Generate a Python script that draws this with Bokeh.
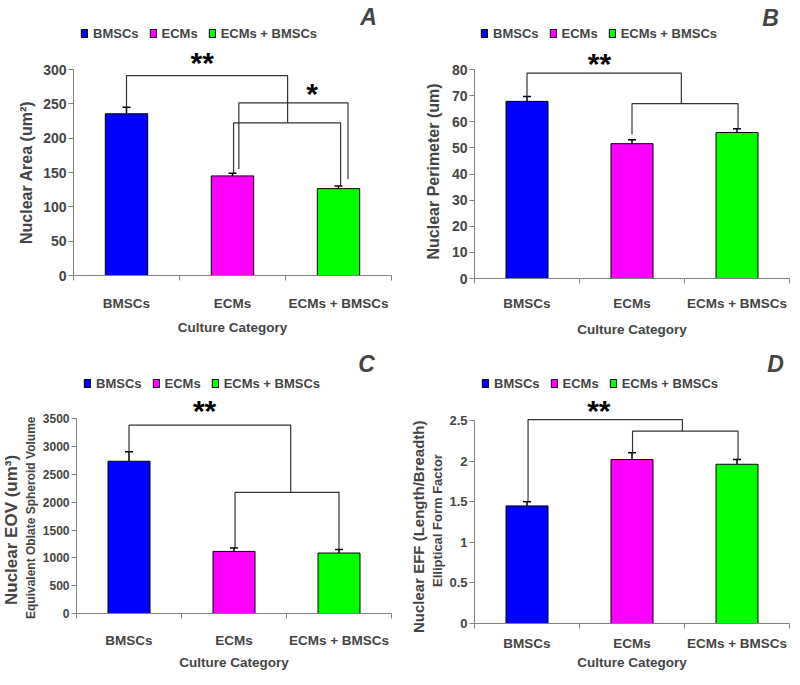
from bokeh.plotting import figure
from bokeh.models import (Range1d, FixedTicker, CustomJSTickFormatter, Whisker, TeeHead,
                          ColumnDataSource, Label, Title)
from bokeh.layouts import column, row
from bokeh.embed import file_html
from bokeh.resources import INLINE
from bokeh.core.properties import value

# ---------------- data ----------------
categories = ["BMSCs", "ECMs", "ECMs + BMSCs"]
bar_colors = ["#0000FF", "#FF00FF", "#00FF00"]

area_mean = [235.5, 145, 126.5]
area_err = [9.5, 4, 4]
area_ticks = [0, 50, 100, 150, 200, 250, 300]

perimeter_mean = [67.8, 51.6, 55.9]
perimeter_err = [1.9, 1.5, 1.4]
perimeter_ticks = [0, 10, 20, 30, 40, 50, 60, 70, 80]

eov_mean = [2737, 1116, 1087]
eov_err = [170, 60, 65]
eov_ticks = [0, 500, 1000, 1500, 2000, 2500, 3000, 3500]

eff_mean = [1.448, 2.019, 1.961]
eff_err = [0.05, 0.085, 0.058]
eff_ticks = [0, 0.5, 1, 1.5, 2, 2.5]

x_label = "Culture Category"

SANS = "'Liberation Sans', Arial, sans-serif"
AXIS_GRAY = "#808080"
BRACKET = "#333333"


class Geo:
    """page-pixel geometry of one panel: figure box, frame edges, pixel of the top tick"""
    def __init__(self, ox, oy, w, h, fl, fr, fb, ytop_px, ytop_val):
        self.ox, self.oy, self.w, self.h = ox, oy, w, h
        self.fl, self.fr, self.fb = fl, fr, fb
        self.ft = oy
        self.ppx = (fr - fl) / 3.0
        self.ppy = (fb - ytop_px) / ytop_val
        self.y_end = (fb - self.ft) / self.ppy

    def dx(self, px):
        return (px - self.fl) / self.ppx

    def dy(self, py):
        return (self.fb - py) / self.ppy


def make_panel(g, letter, mean, err, ticks, tick_size, y_titles, brackets, stars,
               letter_px, legend_px, cat_standoff, xlabel_standoff):
    p = figure(width=g.w, height=g.h, x_range=Range1d(0, 3), y_range=Range1d(0, g.y_end),
               output_backend="svg", toolbar_location=None,
               min_border_left=int(round(g.fl - g.ox)),
               min_border_right=int(round(g.ox + g.w - g.fr)),
               min_border_bottom=int(round(g.oy + g.h - g.fb)), min_border_top=0)
    p.outline_line_color = None
    p.xgrid.visible = False
    p.ygrid.visible = False

    xs = [i + 0.5 for i in range(len(categories))]
    tops = [m + e for m, e in zip(mean, err)]
    src = ColumnDataSource(dict(x=xs, top=mean, upper=tops, color=bar_colors, cat=categories))

    p.vbar(x="x", top="top", bottom=0, width=0.4, fill_color="color", line_color="black",
           line_width=1, source=src, legend_field="cat")
    p.add_layout(Whisker(base="x", lower="top", upper="upper", source=src,
                         line_color="black", line_width=1.5, lower_head=None,
                         upper_head=TeeHead(size=8, line_color="black", line_width=1.5)))

    # significance brackets
    bx, by = [], []
    for (xl, xr, lvl, yl, yr) in brackets:
        bx.append([xl, xl, xr, xr])
        by.append([yl, lvl, lvl, yr])
    p.multi_line(xs=bx, ys=by, line_color=BRACKET, line_width=1.2)

    p.text(x=[g.dx(s[0]) for s in stars], y=[g.dy(s[1]) for s in stars],
           text=[s[2] for s in stars], text_font=value(SANS), text_font_style="bold",
           text_font_size="30px", text_align="center", text_baseline="alphabetic",
           y_offset=1, text_color="black")

    p.add_layout(Label(x=g.dx(letter_px[0]), y=g.dy(letter_px[1]), text=letter, text_font=SANS,
                       text_font_style="bold italic", text_font_size="23px",
                       text_align="center", text_baseline="middle"))

    # x axis
    xa = p.xaxis[0]
    xa.ticker = FixedTicker(ticks=xs, minor_ticks=[0, 1, 2, 3])
    xa.formatter = CustomJSTickFormatter(args=dict(cats=categories),
                                         code="return cats[Math.floor(tick)]")
    xa.major_tick_out = 5
    xa.major_tick_in = 0
    xa.major_tick_line_color = None
    xa.minor_tick_out = 5
    xa.minor_tick_in = 0
    xa.axis_line_color = AXIS_GRAY
    xa.minor_tick_line_color = AXIS_GRAY
    xa.major_label_text_font = SANS
    xa.major_label_text_font_style = "bold"
    xa.major_label_text_font_size = "13.5px"
    xa.major_label_standoff = cat_standoff
    xa.axis_label = x_label
    xa.axis_label_text_font = SANS
    xa.axis_label_text_font_style = "bold"
    xa.axis_label_text_font_size = "13.5px"
    xa.axis_label_standoff = xlabel_standoff

    # y axis
    ya = p.yaxis[0]
    ya.ticker = FixedTicker(ticks=ticks, minor_ticks=[])
    ya.formatter = CustomJSTickFormatter(code="return String(tick)")
    ya.bounds = (ticks[0], ticks[-1])
    ya.major_tick_out = 5
    ya.major_tick_in = 0
    ya.minor_tick_out = 0
    ya.axis_line_color = AXIS_GRAY
    ya.major_tick_line_color = AXIS_GRAY
    ya.major_label_text_font = SANS
    ya.major_label_text_font_style = "bold"
    ya.major_label_text_font_size = tick_size
    ya.major_label_standoff = 2

    # y titles, innermost first: (text, size, text start above frame bottom, standoff)
    for (txt, size, offset, standoff) in y_titles:
        p.add_layout(Title(text=txt, align="left", vertical_align="middle",
                           offset=offset, standoff=standoff,
                           text_font=SANS, text_font_style="bold",
                           text_font_size=size), "left")

    lg = p.legend[0]
    lg.location = (legend_px[0] - g.fl, g.fb - legend_px[1] - 7.5)
    lg.orientation = "horizontal"
    lg.label_text_font = SANS
    lg.label_text_font_style = "bold"
    lg.label_text_font_size = "13px"
    lg.glyph_width = 8
    lg.glyph_height = 10
    lg.label_standoff = 5
    lg.spacing = 10
    lg.padding = 0
    lg.margin = 0
    lg.label_height = 12
    lg.border_line_color = None
    lg.background_fill_alpha = 0
    return p


# ---------- panel A ----------
gA = Geo(0, 0, 400, 339, 73, 391, 275, 69, area_ticks[-1])
a_top = [m + e for m, e in zip(area_mean, area_err)]
pA = make_panel(
    gA, "A", area_mean, area_err, area_ticks, "14px",
    [("Nuclear Area (um²)", "16px", 31.5, 9)],
    [(1.51, 2.52, 222.4, a_top[1], a_top[2]),
     (0.5, 2.02, 291, a_top[0], 222.4),
     (1.56, 2.59, 251.5, a_top[1] + 6, a_top[2] + 10)],
    [(201.7, 60.7, "**"), (311.7, 91.7, "*")],
    (368, 16.7), (80, 33), 15, 6)

# ---------- panel B ----------
gB = Geo(400, 0, 400, 342, 474, 789, 278, 69, perimeter_ticks[-1])
b_top = [m + e for m, e in zip(perimeter_mean, perimeter_err)]
pB = make_panel(
    gB, "B", perimeter_mean, perimeter_err, perimeter_ticks, "14px",
    [("Nuclear Perimeter (um)", "16px", 19, 11)],
    [(1.5, 2.51, 66.9, b_top[1] + 2, b_top[2]),
     (0.5, 1.97, 78.6, b_top[0], 66.9)],
    [(599, 61.7, "**")],
    (770, 17), (480, 33), 12, 8)

# ---------- panel C ----------
gC = Geo(0, 342, 400, 332, 73, 391, 613, 418.3, eov_ticks[-1])
c_top = [m + e for m, e in zip(eov_mean, eov_err)]
pC = make_panel(
    gC, "C", eov_mean, eov_err, eov_ticks, "12px",
    [("Equivalent Oblate Spheroid Volume", "12px", -5.5, 2),
     ("Nuclear EOV (um³)", "17px", 8.5, 0)],
    [(1.51, 2.5, 2178, c_top[1], c_top[2]),
     (0.5, 2.04, 3385, c_top[0], 2178)],
    [(202.3, 409, "**")],
    (365.7, 363), (80, 383), 14, 4)

# ---------- panel D ----------
gD = Geo(400, 342, 400, 342, 474, 789, 623, 420, eff_ticks[-1])
d_top = [m + e for m, e in zip(eff_mean, eff_err)]
pD = make_panel(
    gD, "D", eff_mean, eff_err, eff_ticks, "13px",
    [("Elliptical Form Factor", "13px", 36.5, 2),
     ("Nuclear EFF (Length/Breadth)", "15px", -9.5, 0)],
    [(1.505, 2.51, 2.368, d_top[1], d_top[2]),
     (0.51, 1.98, 2.512, d_top[0], 2.368)],
    [(598.3, 409, "**")],
    (775, 363), (481, 383), 7, 1)

layout = column(row(pA, pB), row(pC, pD))
open("out.html", "w").write(file_html(layout, INLINE))
